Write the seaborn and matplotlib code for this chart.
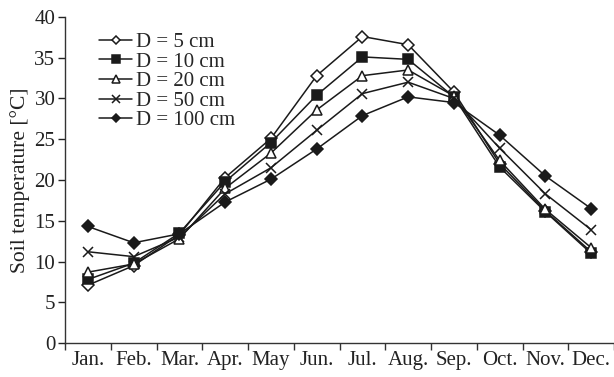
import numpy as np
import pandas as pd
import matplotlib.pyplot as plt
import seaborn as sns

months = ["Jan.", "Feb.", "Mar.", "Apr.", "May", "Jun.", "Jul.", "Aug.", "Sep.", "Oct.", "Nov.", "Dec."]
d5 = [7.1, 9.5, 13.3, 20.3, 25.1, 32.8, 37.6, 36.6, 30.8, 22.0, 16.2, 11.2]
d10 = [7.8, 9.8, 13.5, 19.8, 24.6, 30.4, 35.1, 34.8, 30.2, 21.6, 16.1, 11.0]
d20 = [8.7, 9.7, 12.8, 19.0, 23.3, 28.6, 32.8, 33.5, 30.3, 22.4, 16.4, 11.7]
d50 = [11.2, 10.6, 13.0, 18.3, 21.5, 26.1, 30.6, 32.0, 30.0, 23.9, 18.3, 13.9]
d100 = [14.3, 12.3, 13.4, 17.3, 20.1, 23.8, 27.9, 30.2, 29.5, 25.5, 20.5, 16.5]

series = [
    ("D = 5 cm", d5, "D", "white", 6),
    ("D = 10 cm", d10, "s", "#1a1a1a", 7),
    ("D = 20 cm", d20, "^", "white", 7),
    ("D = 50 cm", d50, "x", "#1a1a1a", 7),
    ("D = 100 cm", d100, "D", "#1a1a1a", 6),
]

sns.set_style("ticks")
plt.rcParams["font.family"] = ["Liberation Serif", "DejaVu Serif"]

fig = plt.figure(figsize=(6.14, 3.77), dpi=100)
ax = fig.add_axes([0.106, 0.090, 0.894, 0.865])

x = np.arange(len(months))
for label, vals, mk, fc, ms in series:
    sns.lineplot(
        x=x, y=vals, ax=ax, color="#1a1a1a", linewidth=1.1,
        marker=mk, markersize=ms, markerfacecolor=fc,
        markeredgecolor="#1a1a1a", markeredgewidth=1.1, label=label,
    )

ax.set_xlim(-0.5, 11.5)
ax.set_ylim(0, 40)
ax.set_yticks(range(0, 41, 5))
ax.set_xticks(x)
ax.set_xticklabels(months)
ax.set_xticks(np.arange(-0.5, 11.6, 1), minor=True)
ax.tick_params(axis="x", which="major", length=0, pad=6, labelsize=15, colors="#222222")
ax.tick_params(axis="x", which="minor", length=5, width=1, color="#333333")
ax.tick_params(axis="y", length=5, width=1, pad=2, labelsize=15, colors="#222222")
ax.set_ylabel("Soil temperature [°C]", fontsize=15.5, color="#222222", labelpad=3)
ax.set_xlabel("")
for s in ["top", "right"]:
    ax.spines[s].set_visible(False)
for s in ["left", "bottom"]:
    ax.spines[s].set_color("#333333")
    ax.spines[s].set_linewidth(1)

ax.legend(
    loc="upper left", bbox_to_anchor=(0.035, 0.997), frameon=False,
    fontsize=15, handlelength=1.6, handletextpad=0.2, labelspacing=0.0,
    borderpad=0.2, markerscale=0.75,
)

fig.savefig("out.png", dpi=100)
